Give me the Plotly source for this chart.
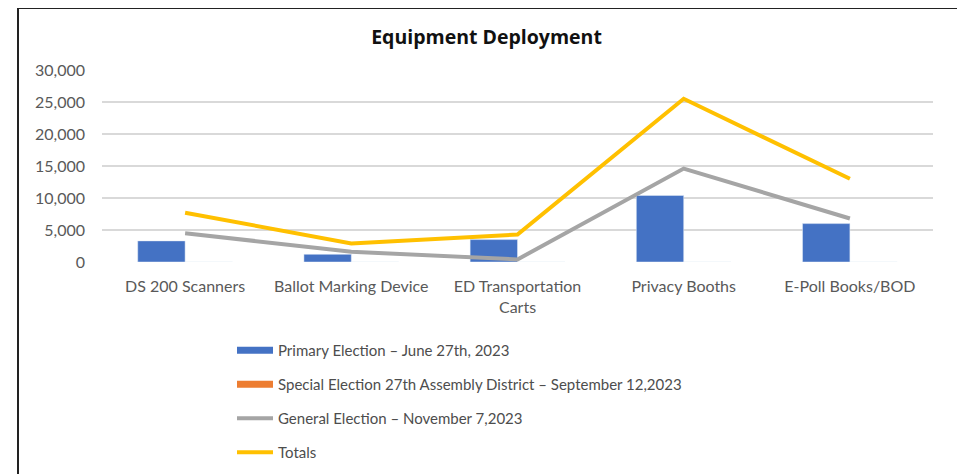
import plotly.graph_objects as go

categories = ["DS 200 Scanners", "Ballot Marking Device", "ED Transportation<br>Carts",
              "Privacy Booths", "E-Poll Books/BOD"]
primary = [3300, 1200, 3500, 10400, 6000]
special = [0, 0, 0, 0, 0]
general = [4500, 1600, 400, 14600, 6800]
totals = [7700, 2900, 4300, 25500, 13000]
y_ticks = [0, 5000, 10000, 15000, 20000, 25000, 30000]

names = ["Primary Election \u2013 June 27th, 2023",
         "Special Election 27th Assembly District \u2013 September 12,2023",
         "General Election \u2013 November 7,2023",
         "Totals"]
colors = ["#4472C4", "#ED7D31", "#A5A5A5", "#FFC000"]

# the page has an 8px body margin, so work in figure pixels = page pixels - 8
OFF = 8
W, H = 965 - OFF, 474 - OFF
L, R, T, B = 102 - OFF, 933 - OFF, 70 - OFF, 262 - OFF  # plot area (figure pixels)

def px(x):
    return (x - L) / (R - L)

def py(y):
    return (B - y) / (B - T)

fig = go.Figure()
fig.add_trace(go.Bar(x=categories, y=primary, name=names[0], marker_color=colors[0],
                     showlegend=False, legendgroup="a"))
fig.add_trace(go.Bar(x=categories, y=special, name=names[1], marker_color=colors[1],
                     showlegend=False, legendgroup="b"))
fig.add_trace(go.Scatter(x=categories, y=general, name=names[2], mode="lines",
                         line=dict(color=colors[2], width=4), showlegend=False, legendgroup="c"))
fig.add_trace(go.Scatter(x=categories, y=totals, name=names[3], mode="lines",
                         line=dict(color=colors[3], width=4), showlegend=False, legendgroup="d"))

# legend entries
for nm, col, w, g in zip(names, colors, [7, 7, 4, 4], ["a", "b", "c", "d"]):
    fig.add_trace(go.Scatter(x=[None], y=[None], name=nm, mode="lines",
                             line=dict(color=col, width=w), legendgroup=g, showlegend=True))

fig.update_layout(
    width=W, height=H,
    margin=dict(l=L, r=W - R, t=T, b=H - B, autoexpand=False),
    paper_bgcolor="white", plot_bgcolor="white",
    barmode="group", bargap=0.43, bargroupgap=0,
    font=dict(family="Lato, Open Sans, sans-serif", size=16, color="#595959"),
    title=dict(text="<b>Equipment Deployment</b>", x=0.5, xref="container", xanchor="center",
               y=1 - 29 / H, yanchor="middle",
               font=dict(family="Open Sans, sans-serif", size=19.5, color="#111111")),
    xaxis=dict(showgrid=False, showline=False, ticks="", ticklabelstandoff=13,
               tickfont=dict(size=16, color="#595959")),
    yaxis=dict(range=[0, 30000], tickvals=y_ticks, tickformat=",", showgrid=True,
               gridcolor="#D9D9D9", gridwidth=1.5, zeroline=False, showline=False,
               ticks="", ticklabelstandoff=16, tickfont=dict(size=16, color="#595959")),
    legend=dict(x=px(224), y=py(326), xanchor="left", yanchor="top", traceorder="grouped",
                tracegroupgap=11.5, font=dict(size=15, color="#4D4D4D"), itemwidth=36,
                bgcolor="rgba(0,0,0,0)"),
    shapes=[dict(type="rect", xref="paper", yref="paper",
                 x0=px(10), x1=px(951), y0=py(0), y1=py(490),
                 line=dict(color="#222222", width=2), fillcolor="rgba(0,0,0,0)")],
)

fig.write_html("out.html")
